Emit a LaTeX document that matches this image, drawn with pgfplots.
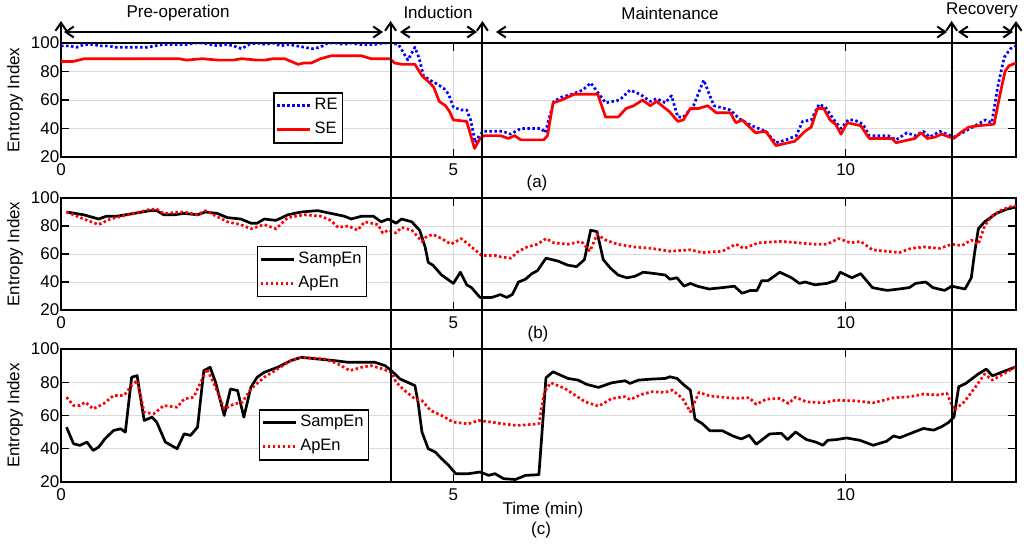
\documentclass[border=0pt]{standalone}
\usepackage{fontspec}
\setmainfont{Liberation Sans}
\usepackage{pgfplots}
\pgfplotsset{compat=1.18}
\usetikzlibrary{arrows.meta}
\newcommand{\fs}{\fontsize{17}{20}\selectfont}
\pgfplotsset{
  panel/.style={
    scale only axis, width=955pt,
    xmin=0, xmax=12.17, ymin=20, ymax=100,
    xtick={0,5,10}, ytick={20,40,60,80,100},
    grid=major, major grid style={draw=gray!30, line width=0.6pt},
    tick align=inside, xtick pos=both, ytick pos=both, major tick length=8pt,
    axis line style={line width=1.7pt},
    every tick/.style={black, line width=1.4pt},
    tick label style={font=\fs},
    /pgf/number format/assume math mode=true,
    xticklabel style={yshift=-3pt},
    yticklabel style={inner xsep=1.5pt, inner ysep=0pt},
    ylabel={Entropy Index},
    ylabel style={font=\fs, at={([xshift=-46pt]axis description cs:0,0.5)}, anchor=center},
    legend cell align=left,
    legend style={font=\fontsize{16.5}{20}\selectfont, draw=black, line width=1.6pt, anchor=north west,
      inner xsep=2pt, inner ysep=1pt, row sep=0pt,
      nodes={inner xsep=3pt, inner ysep=4pt, text height=12pt, text depth=4pt}},
    legend image code/.code={\draw[#1, line width=2.8pt] (0pt,0pt) -- (33pt,0pt);},
  },
  dotline/.style={line width=2.7pt, dash pattern=on 2.5pt off 2.5pt, line join=round},
  solline/.style={line width=2.7pt, line join=round},
}
\begin{document}
\begin{tikzpicture}[font=\fs]
\useasboundingbox (0pt,0pt) rectangle (1024pt,-544pt);
% ---------- panel (a)
\begin{axis}[panel, height=114pt, at={(61pt,-43pt)}, anchor=north west,
  legend style={at={(0.222,0.57)}}]
\addplot[blue, dotline] coordinates {(0,98)(0.1,98)(0.2,97)(0.3,99)(0.4,99)(0.5,98)(0.6,98)(0.7,97)(0.8,97)(0.9,97)(1.0,97)(1.1,97)(1.2,98)(1.3,99)(1.4,99)(1.5,99)(1.6,99)(1.7,100)(1.8,100)(1.9,99)(2.0,98)(2.1,99)(2.2,98)(2.3,96)(2.4,99)(2.5,100)(2.6,99)(2.7,100)(2.8,98)(2.9,99)(3.0,98)(3.1,97)(3.2,96)(3.3,97)(3.4,100)(3.5,100)(3.6,99)(3.7,100)(3.8,99)(3.9,99)(4.0,99)(4.1,100)(4.2,100)(4.3,99)(4.42,88)(4.51,97)(4.56,90)(4.62,77)(4.7,74)(4.8,71)(4.88,68)(4.94,64)(5.0,55)(5.1,53)(5.17,53)(5.22,46)(5.28,30)(5.33,35)(5.38,38)(5.63,38)(5.73,36)(5.86,40)(6.12,40)(6.17,37)(6.28,59)(6.38,62)(6.51,64)(6.65,67)(6.75,72)(6.94,58)(7.12,60)(7.25,67)(7.38,64)(7.51,59)(7.59,61)(7.70,58)(7.78,63)(7.86,48)(7.93,48)(8.06,56)(8.19,74)(8.32,56)(8.53,53)(8.64,47)(8.8,42)(8.98,38)(9.11,30)(9.24,32)(9.37,35)(9.45,45)(9.56,46)(9.66,57)(9.74,55)(9.85,46)(9.94,40)(10.03,46)(10.11,46)(10.22,43)(10.30,35)(10.54,35)(10.64,32)(10.78,37)(10.88,35)(10.99,38)(11.07,34)(11.2,38)(11.38,34)(11.52,38)(11.65,42)(11.78,46)(11.86,44)(11.94,70)(12.02,90)(12.1,96)(12.17,98)};
\addlegendentry{RE}
\addplot[red, solline] coordinates {(0,87)(0.15,87)(0.3,89)(0.5,89)(1.0,89)(1.5,89)(1.6,88)(1.8,89)(2.0,88)(2.2,88)(2.3,89)(2.5,88)(2.6,88)(2.7,89)(2.85,89)(3.02,85)(3.1,86)(3.19,86)(3.31,89)(3.44,91)(3.83,91)(3.95,89)(4.19,89)(4.25,86)(4.35,85)(4.51,85)(4.6,77)(4.68,73)(4.75,69)(4.82,59)(4.9,56)(4.95,52)(5.0,46)(5.17,45)(5.27,26)(5.34,33)(5.39,35)(5.60,35)(5.70,33)(5.78,35)(5.86,32)(6.15,32)(6.2,35)(6.27,58)(6.38,60)(6.54,64)(6.84,64)(6.94,48)(7.1,48)(7.2,54)(7.3,56)(7.41,60)(7.51,56)(7.59,59)(7.75,52)(7.86,45)(7.93,46)(8.02,54)(8.12,54)(8.24,56)(8.35,51)(8.53,51)(8.6,44)(8.68,46)(8.85,37)(8.98,38)(9.11,28)(9.27,30)(9.35,31)(9.48,38)(9.56,41)(9.64,54)(9.72,54)(9.8,46)(9.87,43)(9.94,36)(10.02,44)(10.19,42)(10.30,33)(10.46,33)(10.59,33)(10.64,30)(10.88,33)(10.96,37)(11.04,33)(11.14,34)(11.22,36)(11.38,33)(11.46,37)(11.57,41)(11.70,42)(11.89,43)(11.97,65)(12.03,80)(12.08,84)(12.17,86)};
\addlegendentry{SE}
\end{axis}
% ---------- panel (b)
\begin{axis}[panel, height=112pt, at={(61pt,-198pt)}, anchor=north west,
  legend style={at={(0.205,0.575)}}]
\addplot[black, solline] coordinates {(0.07,90)(0.29,88)(0.48,85)(0.58,87)(0.71,87)(0.93,89)(1.14,91)(1.22,91)(1.31,88)(1.44,88)(1.57,89)(1.74,88)(1.84,90)(1.99,89)(2.12,86)(2.29,85)(2.42,82)(2.5,82)(2.59,85)(2.74,84)(2.89,88)(3.06,90)(3.27,91)(3.44,89)(3.61,87)(3.70,85)(3.83,87)(3.98,87)(4.08,83)(4.17,85)(4.27,82)(4.34,85)(4.47,83)(4.57,77)(4.64,65)(4.68,54)(4.74,52)(4.85,45)(5.0,39)(5.09,47)(5.17,38)(5.23,36)(5.34,29)(5.49,29)(5.6,31)(5.68,29)(5.75,31)(5.83,40)(5.92,42)(6.0,46)(6.07,48)(6.18,57)(6.33,55)(6.46,52)(6.57,51)(6.67,56)(6.75,77)(6.83,76)(6.91,56)(7.0,50)(7.1,45)(7.21,43)(7.31,44)(7.42,47)(7.57,46)(7.70,45)(7.76,42)(7.85,43)(7.94,37)(8.02,39)(8.11,37)(8.26,35)(8.43,36)(8.58,37)(8.68,32)(8.79,34)(8.87,34)(8.93,41)(9.01,41)(9.16,47)(9.31,43)(9.41,39)(9.48,40)(9.61,38)(9.76,39)(9.87,41)(9.93,47)(10.08,43)(10.19,46)(10.34,36)(10.43,35)(10.53,34)(10.68,35)(10.81,36)(10.89,39)(11.02,40)(11.11,36)(11.26,34)(11.35,37)(11.52,35)(11.60,43)(11.64,60)(11.69,78)(11.77,83)(11.92,89)(12.05,92)(12.17,93.5)};
\addlegendentry{SampEn}
\addplot[red, dotline] coordinates {(0.07,90)(0.29,85)(0.48,81)(0.63,85)(0.93,89)(1.14,92)(1.22,92)(1.31,89)(1.57,90)(1.74,88)(1.84,91)(2.12,83)(2.29,81)(2.42,78)(2.59,81)(2.74,78)(2.89,86)(3.1,88)(3.31,87)(3.44,84)(3.53,79)(3.66,80)(3.78,77)(3.87,83)(4.04,81)(4.10,75)(4.17,77)(4.27,75)(4.34,79)(4.47,77)(4.6,69)(4.65,72)(4.74,74)(4.85,71)(4.97,67)(5.10,71)(5.19,67)(5.36,59)(5.53,59)(5.60,58)(5.73,57)(5.83,62)(5.94,65)(6.07,67)(6.18,71)(6.28,68)(6.46,67)(6.63,69)(6.74,62)(6.83,74)(6.94,70)(7.09,67)(7.31,65)(7.53,64)(7.76,62)(8.02,63)(8.17,61)(8.43,62)(8.6,67)(8.7,64)(8.89,68)(9.18,69)(9.39,68)(9.59,67)(9.76,67)(9.91,71)(10.06,68)(10.19,69)(10.34,63)(10.51,62)(10.68,61)(10.83,64)(11.0,65)(11.2,64)(11.35,67)(11.48,66)(11.60,70)(11.69,67)(11.77,80)(11.86,87)(11.97,91)(12.08,93.5)(12.17,94.5)};
\addlegendentry{ApEn}
\end{axis}
% ---------- panel (c)
\begin{axis}[panel, height=133pt, at={(61pt,-349pt)}, anchor=north west,
  legend style={at={(0.207,0.549)}}, clip=false]
\addplot[black, solline] coordinates {(0.07,53)(0.16,43)(0.24,42)(0.33,44)(0.41,39)(0.48,41)(0.56,46)(0.67,51)(0.76,52)(0.82,50)(0.90,83)(0.97,84)(1.06,57)(1.16,59)(1.22,56)(1.33,44)(1.48,40)(1.57,49)(1.65,48)(1.74,53)(1.82,87)(1.90,89)(1.97,80)(2.08,60)(2.16,76)(2.25,75)(2.33,59)(2.42,77)(2.5,83)(2.59,86)(2.76,89)(2.93,93)(3.06,95)(3.27,94)(3.49,93)(3.66,92)(3.83,92)(4.0,92)(4.13,90)(4.21,87)(4.32,82)(4.51,78)(4.55,68)(4.6,50)(4.68,40)(4.77,38)(4.85,34)(4.94,30)(5.03,25)(5.19,25)(5.34,26)(5.45,24)(5.53,25)(5.64,22)(5.79,21.5)(5.92,24)(6.09,24.4)(6.13,50)(6.18,82.7)(6.27,86.3)(6.46,82.3)(6.59,81.3)(6.70,78.7)(6.85,76.9)(7.02,79.7)(7.19,80.9)(7.25,79.3)(7.36,81.3)(7.53,81.9)(7.70,82.3)(7.76,83.3)(7.85,82.3)(7.94,78.3)(8.02,75.3)(8.08,57.8)(8.17,55.2)(8.27,50.8)(8.43,50.8)(8.56,47.7)(8.67,45.9)(8.77,48.1)(8.86,42.7)(9.03,48.9)(9.18,49.3)(9.26,45.5)(9.36,50.1)(9.5,45.5)(9.62,44)(9.71,42.1)(9.77,45.1)(9.88,45.5)(10.01,46.5)(10.18,45.1)(10.35,42.1)(10.52,44.5)(10.61,47.7)(10.69,46.7)(10.82,49.1)(10.99,52.2)(11.12,51.2)(11.22,53.2)(11.31,55.8)(11.38,59.2)(11.44,77.3)(11.53,79.3)(11.68,84.7)(11.79,87.9)(11.87,83.9)(11.98,85.9)(12.17,89.3)};
\addlegendentry{SampEn}
\addplot[red, dotline] coordinates {(0.07,71)(0.16,66)(0.24,66)(0.31,68)(0.41,64)(0.54,67)(0.67,72)(0.80,72)(0.90,78)(0.97,81)(1.06,62)(1.18,61)(1.31,66)(1.48,65)(1.57,70)(1.69,71)(1.78,80)(1.86,88)(1.97,77)(2.08,64)(2.21,67)(2.31,68)(2.42,76)(2.59,83)(2.76,88)(2.93,93)(3.06,95)(3.36,94)(3.53,91)(3.68,87)(3.83,89)(3.95,90)(4.10,88)(4.21,86)(4.27,80)(4.38,75)(4.51,70)(4.6,69)(4.71,63)(4.85,60)(5.0,56)(5.19,55)(5.32,57)(5.49,56)(5.62,55)(5.81,54)(6.09,55)(6.16,74.3)(6.24,79.7)(6.42,76.3)(6.68,68.2)(6.85,65.6)(7.02,70.3)(7.19,71.3)(7.25,69.6)(7.40,72.7)(7.53,74.3)(7.70,73.9)(7.79,75.3)(7.92,70.3)(8.02,62.2)(8.13,73.9)(8.27,71.7)(8.60,70.3)(8.77,70.7)(8.86,66.7)(8.99,69.9)(9.16,70.3)(9.27,67.2)(9.36,71)(9.5,68.2)(9.71,67.6)(9.88,69.2)(10.14,68.8)(10.35,67.6)(10.61,70.7)(10.82,71.3)(10.99,72.9)(11.16,72.3)(11.29,73.3)(11.38,63.2)(11.51,68.2)(11.64,76.3)(11.77,84.9)(11.87,81.3)(12.17,89.3)};
\addlegendentry{ApEn}
\coordinate (L0) at (axis cs:0,20);
\coordinate (L1) at (axis cs:4.2,20);
\coordinate (L2) at (axis cs:5.37,20);
\coordinate (L3) at (axis cs:11.35,20);
\coordinate (L4) at (axis cs:12.17,20);
\end{axis}
% ---------- phase annotations
\tikzset{ar/.style={line width=2pt, black}}
\draw[ar, -{Straight Barb[length=8pt,width=11pt]}] (L1) -- (L1 |- 0,-21pt);
\draw[ar, -{Straight Barb[length=8pt,width=11pt]}] (L2) -- (L2 |- 0,-21pt);
\draw[ar, -{Straight Barb[length=8pt,width=11pt]}] (L3) -- (L3 |- 0,-21pt);
\draw[ar, -{Straight Barb[length=8pt,width=11pt]}] (L0 |- 0,-43pt) -- (L0 |- 0,-21pt);
\draw[ar, -{Straight Barb[length=8pt,width=11pt]}] (L4 |- 0,-43pt) -- (L4 |- 0,-21pt);
\draw[ar, {Straight Barb[length=8pt,width=11pt]}-{Straight Barb[length=8pt,width=11pt]}] (64pt,-32pt) -- (383pt,-32pt);
\draw[ar, {Straight Barb[length=8pt,width=11pt]}-{Straight Barb[length=8pt,width=11pt]}] (400pt,-32pt) -- (477pt,-32pt);
\draw[ar, {Straight Barb[length=8pt,width=11pt]}-{Straight Barb[length=8pt,width=11pt]}] (496pt,-32pt) -- (947pt,-32pt);
\draw[ar, {Straight Barb[length=8pt,width=11pt]}-{Straight Barb[length=8pt,width=11pt]}] (958pt,-32pt) -- (1013pt,-32pt);
\node at (178pt,-13pt) {Pre-operation};
\node at (438pt,-12pt) {Induction};
\node at (670pt,-13pt) {Maintenance};
\node at (982pt,-10pt) {Recovery};
\node at (537pt,-183pt) {(a)};
\node at (538pt,-334pt) {(b)};
\node at (543pt,-510pt) {Time (min)};
\node at (541pt,-530pt) {(c)};
\end{tikzpicture}
\end{document}
